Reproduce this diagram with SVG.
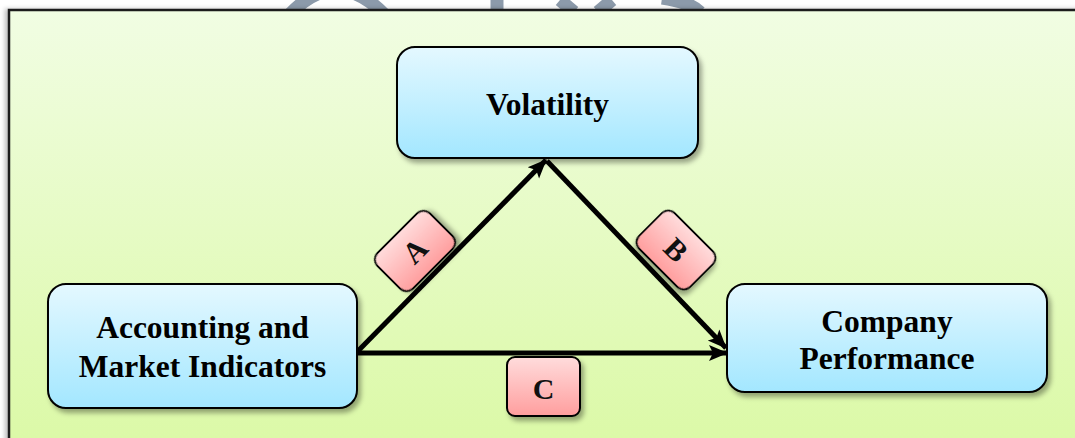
<svg xmlns="http://www.w3.org/2000/svg" width="1075" height="438" viewBox="0 0 1075 438">
  <defs>
    <linearGradient id="bg" x1="0" y1="0" x2="0" y2="1">
      <stop offset="0" stop-color="#f1fde3"/>
      <stop offset="1" stop-color="#dbf9a6"/>
    </linearGradient>
    <linearGradient id="blue" x1="0" y1="0" x2="0" y2="1">
      <stop offset="0" stop-color="#e4f8ff"/>
      <stop offset="1" stop-color="#a3e7ff"/>
    </linearGradient>
    <linearGradient id="pink" x1="0" y1="0" x2="0" y2="1">
      <stop offset="0" stop-color="#ffdcdc"/>
      <stop offset="1" stop-color="#ff9e9e"/>
    </linearGradient>
    <filter id="sh" x="-20%" y="-20%" width="150%" height="160%">
      <feDropShadow dx="3" dy="4" stdDeviation="2.5" flood-color="#000" flood-opacity="0.35"/>
    </filter>
    <filter id="bgsh" x="-2%" y="-2%" width="104%" height="104%">
      <feDropShadow dx="-3" dy="0" stdDeviation="2" flood-color="#000" flood-opacity="0.25"/>
    </filter>
    <marker id="arr" markerUnits="userSpaceOnUse" markerWidth="20" markerHeight="18" viewBox="0 0 20 18" refX="18" refY="9" orient="auto">
      <path d="M0,1 L19,9 L0,17 L4,9 Z" fill="#000"/>
    </marker>
  </defs>
  <style>
    .node rect { fill: url(#blue); stroke: #000; stroke-width: 2; filter: url(#sh); }
    .node text { font-family: "Liberation Serif", "Times New Roman", serif; font-weight: bold; font-size: 31.5px; fill: #000; text-anchor: middle; }
    .lab rect { fill: url(#pink); stroke: #000; stroke-width: 2; filter: url(#sh); }
    .lab text { font-family: "Liberation Serif", "Times New Roman", serif; font-weight: bold; font-size: 30px; fill: #111; text-anchor: middle; }
    .conn line { stroke: #000; stroke-width: 5; marker-end: url(#arr); }
    .wm { fill: none; stroke: #8c9aaa; stroke-width: 13; }
  </style>

  <rect x="0" y="0" width="1075" height="438" fill="#ffffff"/>

  <!-- watermark fragments -->
  <g id="watermark">
    <path class="wm" d="M290 14 Q 336 -34 384 14"/>
    <line class="wm" x1="497" y1="0" x2="497" y2="12"/>
    <line class="wm" x1="560" y1="0" x2="574" y2="12"/>
    <line class="wm" x1="612" y1="0" x2="598" y2="12"/>
    <path class="wm" d="M662 -2 Q 690 2 700 12"/>
  </g>

  <rect id="background" x="9" y="10" width="1080" height="440" fill="url(#bg)" stroke="#1a1a1a" stroke-width="2.5" filter="url(#bgsh)"/>

  <g id="connectors" class="conn">
    <line x1="357" y1="352" x2="546" y2="160"/>
    <line x1="547" y1="161" x2="726" y2="348"/>
    <line x1="357" y1="353" x2="727" y2="353"/>
  </g>

  <g id="volatility" class="node">
    <rect x="397" y="47" width="301" height="111" rx="18"/>
    <text x="547.5" y="115">Volatility</text>
  </g>

  <g id="accounting" class="node">
    <rect x="48" y="284" width="309" height="124" rx="18"/>
    <text x="202.5" y="338">Accounting and</text>
    <text x="202.5" y="377">Market Indicators</text>
  </g>

  <g id="company" class="node">
    <rect x="727" y="284" width="320" height="108" rx="18"/>
    <text x="887" y="332">Company</text>
    <text x="887" y="369">Performance</text>
  </g>

  <g id="labelA" class="lab" transform="translate(415 251) rotate(-45)">
    <rect x="-37" y="-25" width="74" height="50" rx="9"/>
    <text x="0" y="10">A</text>
  </g>

  <g id="labelB" class="lab" transform="translate(676 250) rotate(45)">
    <rect x="-36" y="-25" width="72" height="50" rx="9"/>
    <text x="0" y="10">B</text>
  </g>

  <g id="labelC" class="lab">
    <rect x="507" y="357" width="73" height="59" rx="8"/>
    <text x="543.5" y="399">C</text>
  </g>
</svg>
